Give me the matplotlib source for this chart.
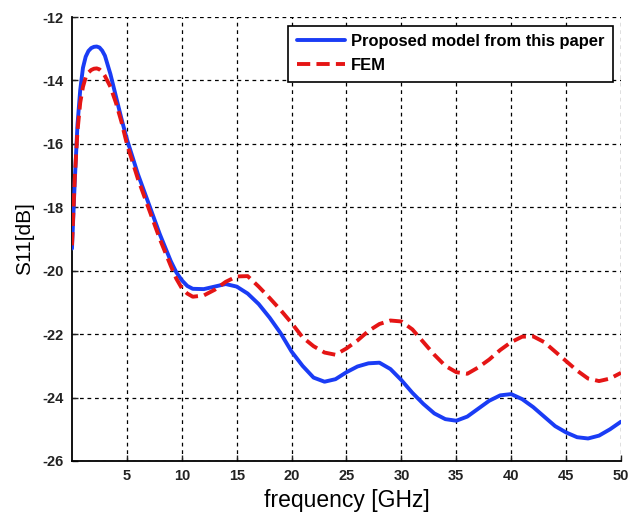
import matplotlib
matplotlib.use("Agg")
import matplotlib.pyplot as plt

plt.rcParams['font.family'] = ['Liberation Sans', 'DejaVu Sans']

# Frequency samples (GHz)
freq = [0, 0.25, 0.5, 0.75, 1, 1.25, 1.5, 1.75, 2, 2.25, 2.5, 2.75, 3, 3.5, 4, 4.5, 5,
        6, 7, 8, 9, 9.5, 10, 10.5, 11, 12, 13, 14, 15, 16,
        17, 18, 19, 20, 21, 22, 23, 24, 25, 26, 27, 28, 29, 30, 31, 32, 33, 34, 35,
        36, 37, 38, 39, 40, 41, 42, 43, 44, 45, 46, 47, 48, 49, 50]

# S11 of the proposed model (dB)
s11_model = [-19.3, -17.2, -15.4, -14.3, -13.6, -13.25, -13.07, -12.98, -12.94, -12.93,
             -12.96, -13.06, -13.22, -13.8, -14.5, -15.2, -15.85,
             -16.95, -17.9, -18.85, -19.7, -20.05, -20.3, -20.48, -20.57, -20.58, -20.5,
             -20.42, -20.5, -20.72,
             -21.05, -21.48, -21.97, -22.55, -23.0, -23.37, -23.5, -23.42, -23.2, -23.02,
             -22.92, -22.9, -23.1, -23.45, -23.85, -24.2, -24.5, -24.68, -24.73,
             -24.6, -24.35, -24.1, -23.93, -23.89, -24.05, -24.3, -24.6, -24.9, -25.1,
             -25.25, -25.29, -25.2, -25.0, -24.76]

# S11 from FEM simulation (dB)
s11_fem = [-19.2, -17.1, -15.6, -14.7, -14.2, -13.9, -13.75, -13.67, -13.63, -13.62,
           -13.65, -13.73, -13.86, -14.2, -14.7, -15.3, -16.0,
           -17.1, -18.05, -19.0, -19.85, -20.25, -20.55, -20.72, -20.82, -20.78, -20.6,
           -20.35, -20.18, -20.17,
           -20.5, -20.86, -21.24, -21.65, -22.1, -22.38, -22.58, -22.65, -22.45, -22.2,
           -21.9, -21.68, -21.57, -21.6, -21.85, -22.25, -22.65, -23.0, -23.2,
           -23.25, -23.05, -22.8, -22.5, -22.25, -22.08, -22.07, -22.25, -22.55, -22.85,
           -23.15, -23.4, -23.48, -23.4, -23.22]

xticks = [5, 10, 15, 20, 25, 30, 35, 40, 45, 50]
yticks = [-12, -14, -16, -18, -20, -22, -24, -26]

fig = plt.figure(figsize=(6.32, 5.16), dpi=100)
ax = fig.add_axes([0.1139, 0.1066, 0.8687, 0.8604])

ax.plot(freq, s11_model, color='#1a3cf5', lw=2.8, solid_capstyle='round',
        solid_joinstyle='round', label='Proposed model from this paper', zorder=3)
ax.plot(freq, s11_fem, color='#e51515', lw=2.8, dashes=(3.4, 1.6),
        dash_joinstyle='round', label='FEM', zorder=4)

ax.set_xlim(0, 50)
ax.set_ylim(-26, -12)
ax.set_xticks(xticks)
ax.set_yticks(yticks)
ax.set_xticklabels([str(t) for t in xticks], fontweight='bold', fontsize=10.5)
ax.set_yticklabels([str(t) for t in yticks], fontweight='bold', fontsize=10.5)
ax.tick_params(direction='in', length=4, width=1, colors='#222222', pad=6)

ax.grid(True, color='black', linestyle=(0, (3, 3)), linewidth=0.9)
for side in ('top', 'right'):
    ax.spines[side].set_visible(False)
for side in ('left', 'bottom'):
    ax.spines[side].set_linewidth(1.3)
    ax.spines[side].set_color('black')

ax.set_xlabel('frequency [GHz]', fontsize=16.5, labelpad=4)
ax.set_ylabel('S11[dB]', fontsize=15, labelpad=6)

leg = ax.legend(loc='upper right', bbox_to_anchor=(0.9855, 0.98),
                prop={'weight': 'bold', 'size': 11.9}, frameon=True,
                fancybox=False, framealpha=1, edgecolor='black',
                handlelength=2.95, handletextpad=0.35, borderpad=0.5,
                labelspacing=0.55, borderaxespad=0.0)
leg.get_frame().set_linewidth(1.2)

fig.savefig('out.png', dpi=100)
